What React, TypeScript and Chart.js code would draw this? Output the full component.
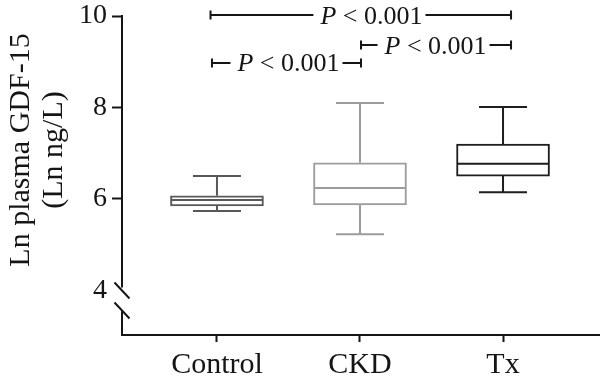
import React, { useEffect, useRef } from 'react';
import { Chart, registerables } from 'chart.js';

Chart.register(...registerables);

// ---- data ----
const categories = ['Control', 'CKD', 'Tx'];
const categoryPositions = [1, 2, 3];
const whiskerLow = [5.74, 5.23, 6.15];
const q1 = [5.85, 5.87, 6.5];
const median = [5.98, 6.24, 6.77];
const q3 = [6.07, 6.79, 7.2];
const whiskerHigh = [6.5, 8.1, 8.01];
const yTicks = [4, 6, 8, 10];
const yTitleLines = ['Ln plasma GDF-15', '(Ln ng/L)'];

// significance annotations
const sigItalic = ['P', 'P', 'P'];
const sigRest = [' < 0.001', ' < 0.001', ' < 0.001'];
const sigFrom = [0.955, 2.007, 0.965];
const sigTo = [3.056, 3.056, 2.007];
const sigLevel = [10.02, 9.366, 8.973];
const sigTextAt = [2.08, 2.528, 1.5];

// ---- styles ----
const groupColors = ['#585858', '#9c9c9c', '#1e1e1e'];
const ink = '#151515';
const FONT = '"Liberation Serif", "Times New Roman", serif';
const BOX_PX = 93;
const CAP_PX = 48;

const boxPlotPlugin = {
  id: 'whiskersMedians',
  afterDatasetsDraw(chart: any) {
    const { ctx } = chart;
    const xs = chart.scales.x;
    const ys = chart.scales.y;
    ctx.save();
    ctx.lineWidth = 2;
    ctx.lineCap = 'butt';
    categoryPositions.forEach((pos, i) => {
      const cx = xs.getPixelForValue(pos);
      ctx.strokeStyle = groupColors[i];
      ctx.beginPath();
      // median
      const ym = ys.getPixelForValue(median[i]);
      ctx.moveTo(cx - BOX_PX / 2 + 1, ym);
      ctx.lineTo(cx + BOX_PX / 2 - 1, ym);
      // upper whisker
      const yq3 = ys.getPixelForValue(q3[i]);
      const yh = ys.getPixelForValue(whiskerHigh[i]);
      ctx.moveTo(cx, yq3);
      ctx.lineTo(cx, yh);
      ctx.moveTo(cx - CAP_PX / 2, yh);
      ctx.lineTo(cx + CAP_PX / 2, yh);
      // lower whisker
      const yq1 = ys.getPixelForValue(q1[i]);
      const yl = ys.getPixelForValue(whiskerLow[i]);
      ctx.moveTo(cx, yq1);
      ctx.lineTo(cx, yl);
      ctx.moveTo(cx - CAP_PX / 2, yl);
      ctx.lineTo(cx + CAP_PX / 2, yl);
      ctx.stroke();
    });
    ctx.restore();
  },
};

const decorPlugin = {
  id: 'decor',
  afterDraw(chart: any) {
    const { ctx, chartArea } = chart;
    const xs = chart.scales.x;
    const ys = chart.scales.y;
    ctx.save();

    // y axis line with break
    const ax = chartArea.left;
    const y10 = ys.getPixelForValue(yTicks[yTicks.length - 1]);
    const y4 = ys.getPixelForValue(yTicks[0]);
    ctx.strokeStyle = ink;
    ctx.lineWidth = 2;
    ctx.beginPath();
    ctx.moveTo(ax, y10 - 1);
    ctx.lineTo(ax, y4 - 3);
    ctx.moveTo(ax, y4 + 21);
    ctx.lineTo(ax, chartArea.bottom);
    // slashes
    ctx.moveTo(ax - 7.5, y4 - 8);
    ctx.lineTo(ax + 7.5, y4 + 8);
    ctx.moveTo(ax - 7.5, y4 + 12);
    ctx.lineTo(ax + 7.5, y4 + 28);
    ctx.stroke();

    // y axis title (two lines, rotated)
    ctx.fillStyle = ink;
    ctx.font = `30px ${FONT}`;
    ctx.textAlign = 'center';
    ctx.textBaseline = 'alphabetic';
    const titleBaselines = [29, 62];
    yTitleLines.forEach((t, i) => {
      ctx.save();
      ctx.translate(titleBaselines[i], 150);
      ctx.rotate(-Math.PI / 2);
      ctx.fillText(t, 0, 0);
      ctx.restore();
    });

    // significance bars
    const size = 26;
    sigLevel.forEach((lv, i) => {
      const y = ys.getPixelForValue(lv);
      const x0 = xs.getPixelForValue(sigFrom[i]);
      const x1 = xs.getPixelForValue(sigTo[i]);
      const xc = xs.getPixelForValue(sigTextAt[i]);
      ctx.font = `italic ${size}px ${FONT}`;
      const wI = ctx.measureText(sigItalic[i]).width;
      ctx.font = `${size}px ${FONT}`;
      const wR = ctx.measureText(sigRest[i]).width;
      const w = wI + wR;
      const tl = xc - w / 2;
      const tr = xc + w / 2;
      ctx.strokeStyle = ink;
      ctx.lineWidth = 2;
      ctx.beginPath();
      ctx.moveTo(x0, y);
      ctx.lineTo(tl - 7, y);
      ctx.moveTo(tr + 3, y);
      ctx.lineTo(x1, y);
      ctx.moveTo(x0, y - 4.5);
      ctx.lineTo(x0, y + 4.5);
      ctx.moveTo(x1, y - 4.5);
      ctx.lineTo(x1, y + 4.5);
      ctx.stroke();
      ctx.textAlign = 'left';
      ctx.textBaseline = 'alphabetic';
      ctx.fillStyle = ink;
      ctx.font = `italic ${size}px ${FONT}`;
      ctx.fillText(sigItalic[i], tl, y + 8.5);
      ctx.font = `${size}px ${FONT}`;
      ctx.fillText(sigRest[i], tl + wI, y + 8.5);
    });

    ctx.restore();
  },
};

export default function App() {
  const canvasRef = useRef<HTMLCanvasElement | null>(null);

  useEffect(() => {
    if (!canvasRef.current) return;
    const chart = new Chart(canvasRef.current, {
      type: 'bar',
      data: {
        datasets: [
          {
            data: categoryPositions.map((x, i) => ({ x, y: [q1[i], q3[i]] })) as any,
            backgroundColor: '#ffffff',
            borderColor: groupColors,
            borderWidth: 2,
            borderSkipped: false,
            barThickness: BOX_PX,
          } as any,
        ],
      },
      options: {
        animation: false,
        responsive: false,
        events: [],
        layout: { padding: 0 },
        plugins: {
          legend: { display: false },
          tooltip: { enabled: false },
          title: { display: false },
        },
        scales: {
          x: {
            type: 'linear',
            min: 0.336,
            max: 3.678,
            offset: false,
            afterBuildTicks: (scale: any) => {
              scale.ticks = categoryPositions.map((v) => ({ value: v }));
            },
            afterFit: (scale: any) => {
              scale.height = 50;
              scale.paddingLeft = 0;
              scale.paddingRight = 0;
            },
            ticks: {
              autoSkip: false,
              maxRotation: 0,
              padding: 5,
              color: ink,
              font: { family: FONT, size: 30 },
              callback: (v: any) => {
                const idx = categoryPositions.indexOf(Number(v));
                return idx >= 0 ? categories[idx] : '';
              },
            },
            grid: {
              display: true,
              offset: false,
              drawOnChartArea: false,
              drawTicks: true,
              tickLength: 7,
              tickWidth: 2,
              tickColor: ink,
            },
            border: { display: true, color: ink, width: 2 },
          },
          y: {
            type: 'linear',
            min: 3.027,
            max: 10.35,
            afterBuildTicks: (scale: any) => {
              scale.ticks = yTicks.map((v) => ({ value: v }));
            },
            afterFit: (scale: any) => {
              scale.width = 122;
              scale.paddingTop = 0;
              scale.paddingBottom = 0;
            },
            ticks: {
              padding: 5,
              color: ink,
              font: { family: FONT, size: 28 },
              callback: (v: any) => String(v),
            },
            grid: {
              display: true,
              offset: false,
              drawOnChartArea: false,
              drawTicks: true,
              tickLength: 10,
              tickWidth: 2,
              tickColor: (c: any) => (c.tick && c.tick.value === yTicks[0] ? 'rgba(0,0,0,0)' : ink),
            },
            border: { display: false },
          },
        },
      },
      plugins: [boxPlotPlugin, decorPlugin],
    });
    return () => chart.destroy();
  }, []);

  return (
    <div style={{ width: 600, height: 385, background: '#fff' }}>
      <style>{`body{margin:0;background:#fff;}`}</style>
      <canvas ref={canvasRef} width={600} height={385} style={{ display: 'block' }} />
    </div>
  );
}
